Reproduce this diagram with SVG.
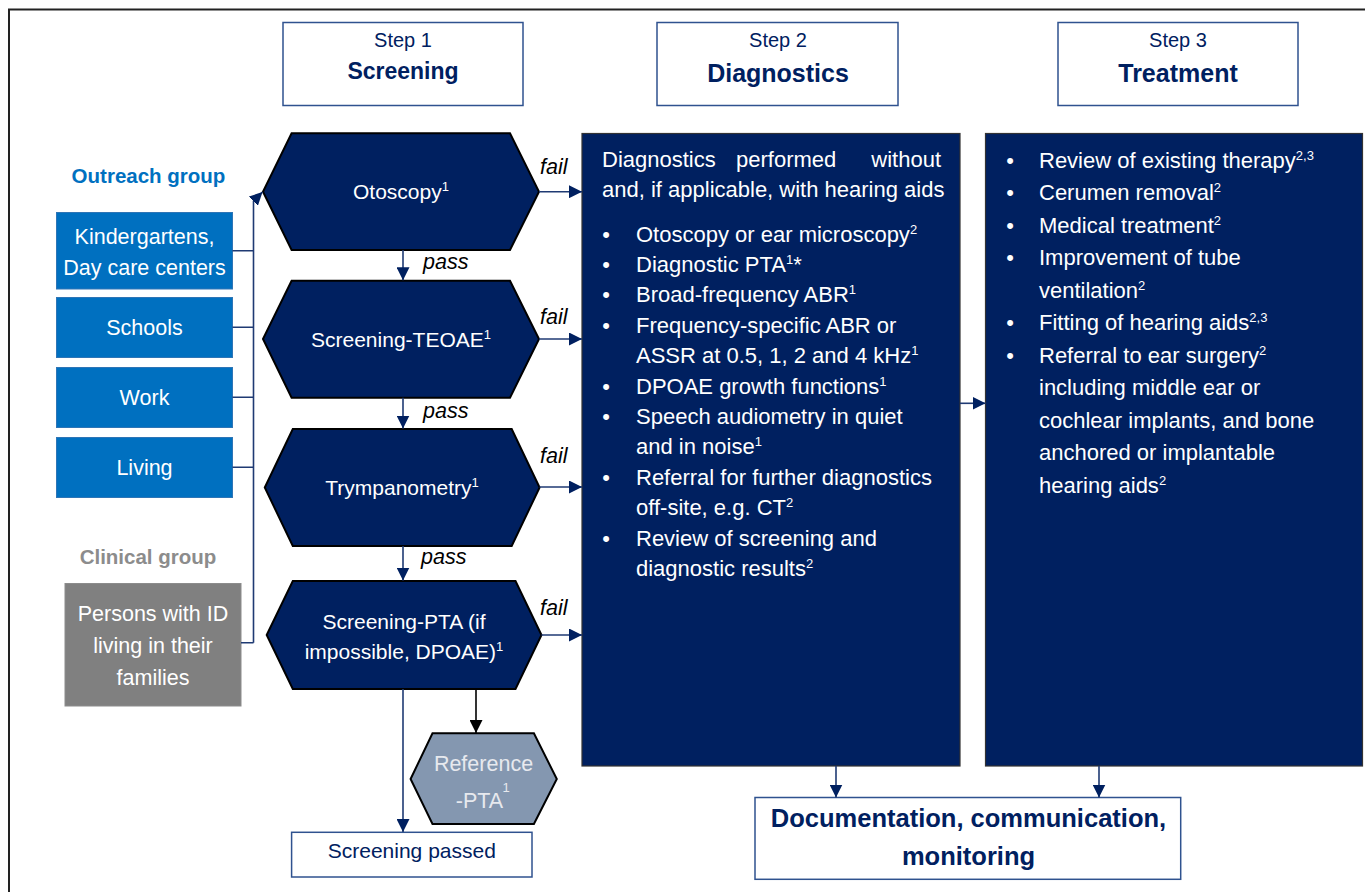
<svg xmlns="http://www.w3.org/2000/svg" width="1365" height="892" viewBox="0 0 1365 892">
<style>
text{font-family:"Liberation Sans",Arial,sans-serif}
.stepbox{fill:#fff;stroke:#2F528F;stroke-width:1.5}
.st{font-size:20px;fill:#002060;text-anchor:middle}
.sb{font-size:23px;font-weight:bold;fill:#002060;text-anchor:middle}
.hex{fill:#002060;stroke:#000;stroke-width:2}
.ht{font-size:21px;fill:#fff;text-anchor:middle}
.lbl{font-size:21.5px;font-style:italic;fill:#000}
.blue{fill:#0070C0;stroke:#2E75B6;stroke-width:1}
.grey{fill:#808080;stroke:#8C8C8C;stroke-width:1}
.bt{font-size:21.5px;fill:#fff;text-anchor:middle}
.big{fill:#002060;stroke:#333;stroke-width:1.2}
.dt{font-size:22px;fill:#fff}
.bul{font-size:22px;fill:#fff;text-anchor:middle}
.sup{font-size:13px}
.con{fill:none;stroke:#1F3A73;stroke-width:1.6}
.conb{fill:none;stroke:#000;stroke-width:1.6}
</style>
<defs>
<marker id="ah" markerUnits="userSpaceOnUse" markerWidth="13" markerHeight="13" refX="13" refY="6.5" orient="auto">
<path d="M0,0 L13,6.5 L0,13 z" fill="#002060"/>
</marker>
<marker id="ahb" markerUnits="userSpaceOnUse" markerWidth="13" markerHeight="13" refX="13" refY="6.5" orient="auto">
<path d="M0,0 L13,6.5 L0,13 z" fill="#000"/>
</marker>
</defs>
<rect x="0" y="0" width="1365" height="892" fill="#fff"/>
<rect x="9" y="9.5" width="1400" height="900" fill="none" stroke="#222" stroke-width="2"/>

<g id="step1"><rect class="stepbox" x="283" y="22.5" width="240" height="83"/><text class="st" x="403" y="47">Step 1</text><text class="sb" x="403" y="79">Screening</text></g>
<g id="step2"><rect class="stepbox" x="657" y="22.5" width="241" height="83"/><text class="st" x="778" y="47">Step 2</text><text class="sb" x="778" y="82" style="font-size:25px">Diagnostics</text></g>
<g id="step3"><rect class="stepbox" x="1058" y="22.5" width="240" height="83"/><text class="st" x="1178" y="47">Step 3</text><text class="sb" x="1178" y="82" style="font-size:25px">Treatment</text></g>

<g id="outreach-label"><text x="148.5" y="183" style="font-size:20.5px;font-weight:bold;fill:#0070C0;text-anchor:middle">Outreach group</text></g>
<g id="kindergartens"><rect class="blue" x="56.5" y="212.5" width="176" height="76.5"/><text class="bt" x="144.5" y="243.5">Kindergartens,</text><text class="bt" x="144.5" y="274.5">Day care centers</text></g>
<g id="schools"><rect class="blue" x="56.5" y="297.5" width="176" height="60"/><text class="bt" x="144.5" y="334.5">Schools</text></g>
<g id="work"><rect class="blue" x="56.5" y="367.5" width="176" height="60"/><text class="bt" x="144.5" y="404.5">Work</text></g>
<g id="living"><rect class="blue" x="56.5" y="437.5" width="176" height="60"/><text class="bt" x="144.5" y="475">Living</text></g>
<g id="clinical-label"><text x="148" y="564" style="font-size:20.5px;font-weight:bold;fill:#8C8C8C;text-anchor:middle">Clinical group</text></g>
<g id="persons"><rect class="grey" x="65" y="583.5" width="176" height="122.5"/><text class="bt" x="153" y="620.5">Persons with ID</text><text class="bt" x="153" y="652.5">living in their</text><text class="bt" x="153" y="684.5">families</text></g>

<g id="otoscopy"><polygon class="hex" points="263,191.7 291.6,133.3 510,133.3 539,191.7 510,250 291.6,250"/><text class="ht" x="401" y="199">Otoscopy<tspan class="sup" dy="-8">1</tspan></text></g>
<g id="teoae"><polygon class="hex" points="263,339 291.6,280.7 510,280.7 539,339 510,397.7 291.6,397.7"/><text class="ht" x="401" y="346.5">Screening-TEOAE<tspan class="sup" dy="-8">1</tspan></text></g>
<g id="tympanometry"><polygon class="hex" points="264.8,487.5 292.8,429 511.7,429 539.6,487.5 511.7,546 292.8,546"/><text class="ht" x="402" y="494.5">Trympanometry<tspan class="sup" dy="-8">1</tspan></text></g>
<g id="screening-pta"><polygon class="hex" points="266.7,635 292.8,581 515.5,581 541.5,635 515.5,689 292.8,689"/><text class="ht" x="404" y="629">Screening-PTA (if</text><text class="ht" x="404" y="658.5">impossible, DPOAE)<tspan class="sup" dy="-8">1</tspan></text></g>
<g id="reference-pta"><polygon points="410.6,779 432.5,733.3 533.9,733.3 556.8,779 533.9,824 432.5,824" fill="#8497B0" stroke="#000" stroke-width="2"/><text x="483.5" y="771" style="font-size:21.5px;fill:#E7E9EE;text-anchor:middle">Reference</text><text x="479.5" y="807.5" style="font-size:21.5px;fill:#E7E9EE;text-anchor:middle">-PTA</text><text x="506" y="792" style="font-size:13px;fill:#E7E9EE;text-anchor:middle">1</text></g>
<g id="screening-passed"><rect x="291.6" y="832.3" width="240.4" height="44.7" fill="#fff" stroke="#2F528F" stroke-width="1.5"/><text x="411.8" y="857.5" style="font-size:21px;fill:#002060;text-anchor:middle">Screening passed</text></g>

<g id="diagnostics"><rect class="big" x="582" y="133.5" width="378" height="632.5"/>
<text class="dt" x="602" y="166.5">Diagnostics</text><text class="dt" x="736" y="166.5">performed</text><text class="dt" x="941" y="166.5" text-anchor="end">without</text>
<text class="dt" x="602" y="196.5">and, if applicable, with hearing aids</text>
<text class="bul" x="606" y="241.5">•</text><text class="dt" x="636" y="241.5">Otoscopy or ear microscopy<tspan class="sup" dy="-8">2</tspan></text>
<text class="bul" x="606" y="271.9">•</text><text class="dt" x="636" y="271.9">Diagnostic PTA<tspan class="sup" dy="-8">1</tspan><tspan dy="8">*</tspan></text>
<text class="bul" x="606" y="302.3">•</text><text class="dt" x="636" y="302.3">Broad-frequency ABR<tspan class="sup" dy="-8">1</tspan></text>
<text class="bul" x="606" y="332.7">•</text><text class="dt" x="636" y="332.7">Frequency-specific ABR or</text>
<text class="dt" x="636" y="363.1">ASSR at 0.5, 1, 2 and 4 kHz<tspan class="sup" dy="-8">1</tspan></text>
<text class="bul" x="606" y="393.5">•</text><text class="dt" x="636" y="393.5">DPOAE growth functions<tspan class="sup" dy="-8">1</tspan></text>
<text class="bul" x="606" y="423.9">•</text><text class="dt" x="636" y="423.9">Speech audiometry in quiet</text>
<text class="dt" x="636" y="454.3">and in noise<tspan class="sup" dy="-8">1</tspan></text>
<text class="bul" x="606" y="484.7">•</text><text class="dt" x="636" y="484.7">Referral for further diagnostics</text>
<text class="dt" x="636" y="515.1">off-site, e.g. CT<tspan class="sup" dy="-8">2</tspan></text>
<text class="bul" x="606" y="545.5">•</text><text class="dt" x="636" y="545.5">Review of screening and</text>
<text class="dt" x="636" y="575.9">diagnostic results<tspan class="sup" dy="-8">2</tspan></text>
</g>

<g id="treatment"><rect class="big" x="985.5" y="133.5" width="377" height="632.5"/>
<text class="bul" x="1010" y="167.5">•</text><text class="dt" x="1039" y="167.5">Review of existing therapy<tspan class="sup" dy="-8">2,3</tspan></text>
<text class="bul" x="1010" y="200">•</text><text class="dt" x="1039" y="200">Cerumen removal<tspan class="sup" dy="-8">2</tspan></text>
<text class="bul" x="1010" y="232.5">•</text><text class="dt" x="1039" y="232.5">Medical treatment<tspan class="sup" dy="-8">2</tspan></text>
<text class="bul" x="1010" y="265">•</text><text class="dt" x="1039" y="265">Improvement of tube</text>
<text class="dt" x="1039" y="297.5">ventilation<tspan class="sup" dy="-8">2</tspan></text>
<text class="bul" x="1010" y="330">•</text><text class="dt" x="1039" y="330">Fitting of hearing aids<tspan class="sup" dy="-8">2,3</tspan></text>
<text class="bul" x="1010" y="362.5">•</text><text class="dt" x="1039" y="362.5">Referral to ear surgery<tspan class="sup" dy="-8">2</tspan></text>
<text class="dt" x="1039" y="395">including middle ear or</text>
<text class="dt" x="1039" y="427.5">cochlear implants, and bone</text>
<text class="dt" x="1039" y="460">anchored or implantable</text>
<text class="dt" x="1039" y="492.5">hearing aids<tspan class="sup" dy="-8">2</tspan></text>
</g>

<g id="documentation"><rect x="755" y="797.5" width="425.7" height="81.8" fill="#fff" stroke="#2F528F" stroke-width="1.5"/><text x="968.5" y="827" style="font-size:25.5px;font-weight:bold;fill:#002060;text-anchor:middle">Documentation, communication,</text><text x="968.5" y="865" style="font-size:25.5px;font-weight:bold;fill:#002060;text-anchor:middle">monitoring</text></g>

<g id="connectors">
<path class="con" d="M232.5 250.7H253.5M232.5 327.3H253.5M232.5 397.3H253.5M232.5 467.3H253.5M241 642.7H253.5"/>
<path class="con" d="M253.5 642.7V201L262.5 192" marker-end="url(#ah)"/>
<path class="con" d="M403 250V280.2" marker-end="url(#ah)"/>
<path class="con" d="M403 397.7V428.5" marker-end="url(#ah)"/>
<path class="con" d="M403 546V580.5" marker-end="url(#ah)"/>
<path class="con" d="M403 689V832" marker-end="url(#ah)"/>
<path class="conb" d="M476 689V733" marker-end="url(#ahb)"/>
<path class="con" d="M539 191.7H582" marker-end="url(#ah)"/>
<path class="con" d="M539 339H582" marker-end="url(#ah)"/>
<path class="con" d="M539.6 487H582" marker-end="url(#ah)"/>
<path class="con" d="M541.5 635H582" marker-end="url(#ah)"/>
<path class="con" d="M960 403.3H985.5" marker-end="url(#ah)"/>
<path class="con" d="M836 766V797.5" marker-end="url(#ah)"/>
<path class="con" d="M1099 766V797.5" marker-end="url(#ah)"/>
<text class="lbl" x="423" y="269">pass</text>
<text class="lbl" x="423" y="418">pass</text>
<text class="lbl" x="421" y="564">pass</text>
<text class="lbl" x="540" y="174">fail</text>
<text class="lbl" x="540" y="324">fail</text>
<text class="lbl" x="540" y="463">fail</text>
<text class="lbl" x="540" y="615">fail</text>
</g>
</svg>
